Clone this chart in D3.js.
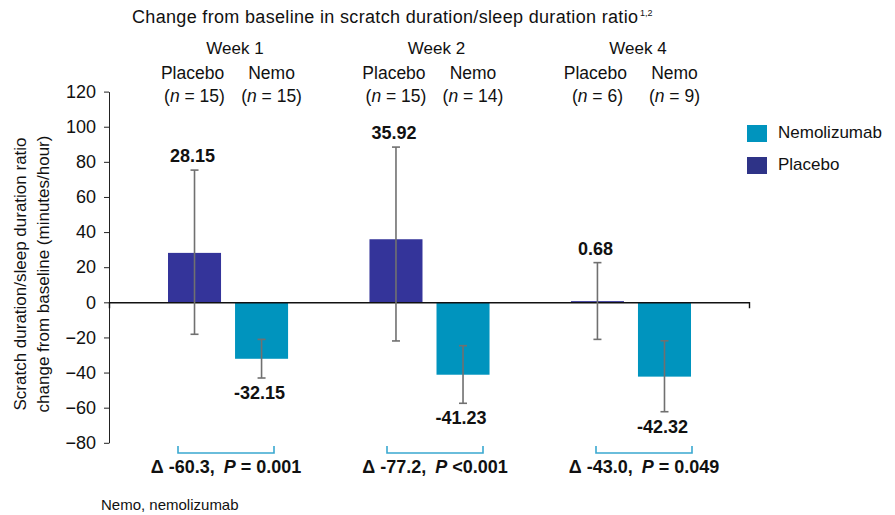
<!DOCTYPE html>
<meta charset="utf-8">
<html>
<head>
<script src="https://d3js.org/d3.v7.min.js"></script>
<style>
  body { margin: 0; background: #fff; }
  text { font-family: "Liberation Sans", Arial, Helvetica, sans-serif; fill: #111; }
</style>
</head>
<body>
<div id="my_dataviz"></div>
<script>

// data
var weeks = ["Week 1", "Week 2", "Week 4"];
var groups = ["Placebo", "Nemo"];
var placeboN = [15, 15, 6];
var nemoN = [15, 14, 9];
var placeboMean = [28.15, 35.92, 0.68];
var nemoMean = [-32.15, -41.23, -42.32];
var placeboLow = [-18.2, -22.0, -21.1];
var placeboHigh = [75.3, 88.4, 22.6];
var nemoLow = [-43.1, -57.5, -62.3];
var nemoHigh = [-21.1, -24.7, -21.9];
var deltas = ["-60.3", "-77.2", "-43.0"];
var pTexts = ["= 0.001", "<0.001", "= 0.049"];
var yTicks = [-80, -60, -40, -20, 0, 20, 40, 60, 80, 100, 120];
var legendItems = ["Nemolizumab", "Placebo"];

var colors = {Placebo: "#34349a", Nemo: "#0094be"};
var legendColors = {Nemolizumab: "#0094be", Placebo: "#2e3387"};

// rows built from the arrays
var rows = [];
weeks.forEach(function(w, i) {
  rows.push({week: w, group: "Placebo", mean: placeboMean[i], lo: placeboLow[i], hi: placeboHigh[i], n: placeboN[i]});
  rows.push({week: w, group: "Nemo", mean: nemoMean[i], lo: nemoLow[i], hi: nemoHigh[i], n: nemoN[i]});
});

var svg = d3.select("#my_dataviz")
  .append("svg")
    .attr("width", 895)
    .attr("height", 515);

// scales
var y = d3.scaleLinear().domain([-80, 120]).range([442.8, 91.6]);
var x0 = d3.scaleBand().domain(weeks).range([168, 691]).paddingInner(0.404).paddingOuter(0);
var x1 = d3.scaleBand().domain(groups).range([0, x0.bandwidth()]).paddingInner(0.209);
// comparison annotations sit on their own positions
var xc = d3.scalePoint().domain(weeks).range([226, 644]);
function cx(d) { return x0(d.week) + x1(d.group) + x1.bandwidth() / 2; }

// title
svg.append("text")
  .attr("x", 132).attr("y", 23)
  .style("font-size", "18px")
  .attr("textLength", 506)
  .attr("lengthAdjust", "spacing")
  .text("Change from baseline in scratch duration/sleep duration ratio");
svg.append("text")
  .attr("x", 640).attr("y", 16)
  .style("font-size", "9px")
  .text("1,2");

// Y axis
var yAxis = svg.append("g")
  .attr("transform", "translate(109,0)")
  .call(d3.axisLeft(y).tickValues(yTicks).tickSize(5).tickSizeOuter(0).tickPadding(8));
yAxis.selectAll("text").style("font-size", "18px").attr("fill", "#111");
yAxis.selectAll("path, line").attr("stroke", "#222");

// y axis title
var yt = svg.append("text")
  .attr("transform", "translate(26,274) rotate(-90)")
  .attr("text-anchor", "middle")
  .style("font-size", "17px");
yt.append("tspan").attr("x", 0).attr("y", 0).text("Scratch duration/sleep duration ratio");
yt.append("tspan").attr("x", 0).attr("y", 23).text("change from baseline (minutes/hour)");

// bars
svg.selectAll("rect.bar")
  .data(rows)
  .enter()
  .append("rect")
    .attr("class", "bar")
    .attr("x", function(d) { return x0(d.week) + x1(d.group); })
    .attr("y", function(d) { return y(Math.max(0, d.mean)); })
    .attr("width", x1.bandwidth())
    .attr("height", function(d) { return Math.abs(y(d.mean) - y(0)); })
    .attr("fill", function(d) { return colors[d.group]; });

// zero line with end tick
var xLine = d3.scaleLinear().domain([0, 1]).range([109, 749]);
svg.append("g")
  .attr("transform", "translate(0," + y(0) + ")")
  .call(d3.axisBottom(xLine).tickValues([]).tickSizeOuter(6))
  .selectAll("path").attr("stroke", "#111").attr("stroke-width", 1.4);

// error bars
var eb = svg.selectAll("g.err").data(rows).enter().append("g").attr("class", "err")
  .attr("stroke", "#707070").attr("stroke-width", 1.6);
eb.append("line")
  .attr("x1", cx).attr("x2", cx)
  .attr("y1", function(d) { return y(d.hi); })
  .attr("y2", function(d) { return y(d.lo); });
eb.append("line")
  .attr("x1", function(d) { return cx(d) - 4; }).attr("x2", function(d) { return cx(d) + 4; })
  .attr("y1", function(d) { return y(d.hi); }).attr("y2", function(d) { return y(d.hi); });
eb.append("line")
  .attr("x1", function(d) { return cx(d) - 4; }).attr("x2", function(d) { return cx(d) + 4; })
  .attr("y1", function(d) { return y(d.lo); }).attr("y2", function(d) { return y(d.lo); });

// value labels
svg.selectAll("text.val")
  .data(rows)
  .enter()
  .append("text")
    .attr("class", "val")
    .attr("x", function(d) { return cx(d) - 2; })
    .attr("y", function(d) { return d.mean >= 0 ? y(d.hi) - 8 : y(d.lo) + 21; })
    .attr("text-anchor", "middle")
    .style("font-size", "18px")
    .style("font-weight", "bold")
    .text(function(d) { return d.mean.toFixed(2); });

// column headers
var hdr = svg.selectAll("g.hdr").data(weeks).enter().append("g").attr("class", "hdr");
hdr.append("text")
  .attr("x", function(d) { return x0(d) + x0.bandwidth() / 2 + 7; })
  .attr("y", 54)
  .attr("text-anchor", "middle")
  .style("font-size", "17px")
  .text(function(d) { return d; });

var subs = svg.selectAll("g.sub").data(rows).enter().append("g").attr("class", "sub");
subs.append("text")
  .attr("x", function(d) { return cx(d) + (d.group === "Placebo" ? -2 : 10); })
  .attr("y", 79)
  .attr("text-anchor", "middle")
  .style("font-size", "17.5px")
  .text(function(d) { return d.group; });
var nt = subs.append("text")
  .attr("x", function(d) { return cx(d) + (d.group === "Placebo" ? 0 : 10); })
  .attr("y", 102)
  .attr("text-anchor", "middle")
  .style("font-size", "17.5px");
nt.append("tspan").text("(");
nt.append("tspan").style("font-style", "italic").text("n");
nt.append("tspan").text(function(d) { return " = " + d.n + ")"; });

// legend
var lg = svg.selectAll("g.lg").data(legendItems).enter().append("g").attr("class", "lg")
  .attr("transform", function(d, i) { return "translate(747," + (125 + i * 32) + ")"; });
lg.append("rect").attr("width", 20).attr("height", 17)
  .attr("fill", function(d) { return legendColors[d]; });
lg.append("text").attr("x", 31).attr("y", 13).style("font-size", "17px")
  .text(function(d) { return d; });

// comparison brackets and delta labels
var cmp = svg.selectAll("g.cmp").data(weeks).enter().append("g").attr("class", "cmp");
cmp.append("path")
  .attr("d", function(w) {
    var m = xc(w);
    return "M" + (m - 48) + ",446V453H" + (m + 48) + "V446";
  })
  .attr("fill", "none").attr("stroke", "#3aa8d0").attr("stroke-width", 1.6);
var dt = cmp.append("text")
  .attr("x", function(w) { return xc(w); })
  .attr("y", 473)
  .attr("text-anchor", "middle")
  .style("font-size", "18px")
  .style("font-weight", "bold");
dt.append("tspan").text(function(w, i) { return "\u0394 " + deltas[i] + ","; });
dt.append("tspan").attr("dx", 9).style("font-style", "italic").text("P");
dt.append("tspan").text(function(w, i) { return " " + pTexts[i]; });

// footnote
svg.append("text")
  .attr("x", 101).attr("y", 510)
  .style("font-size", "15px")
  .text("Nemo, nemolizumab");

</script>
</body>
</html>
